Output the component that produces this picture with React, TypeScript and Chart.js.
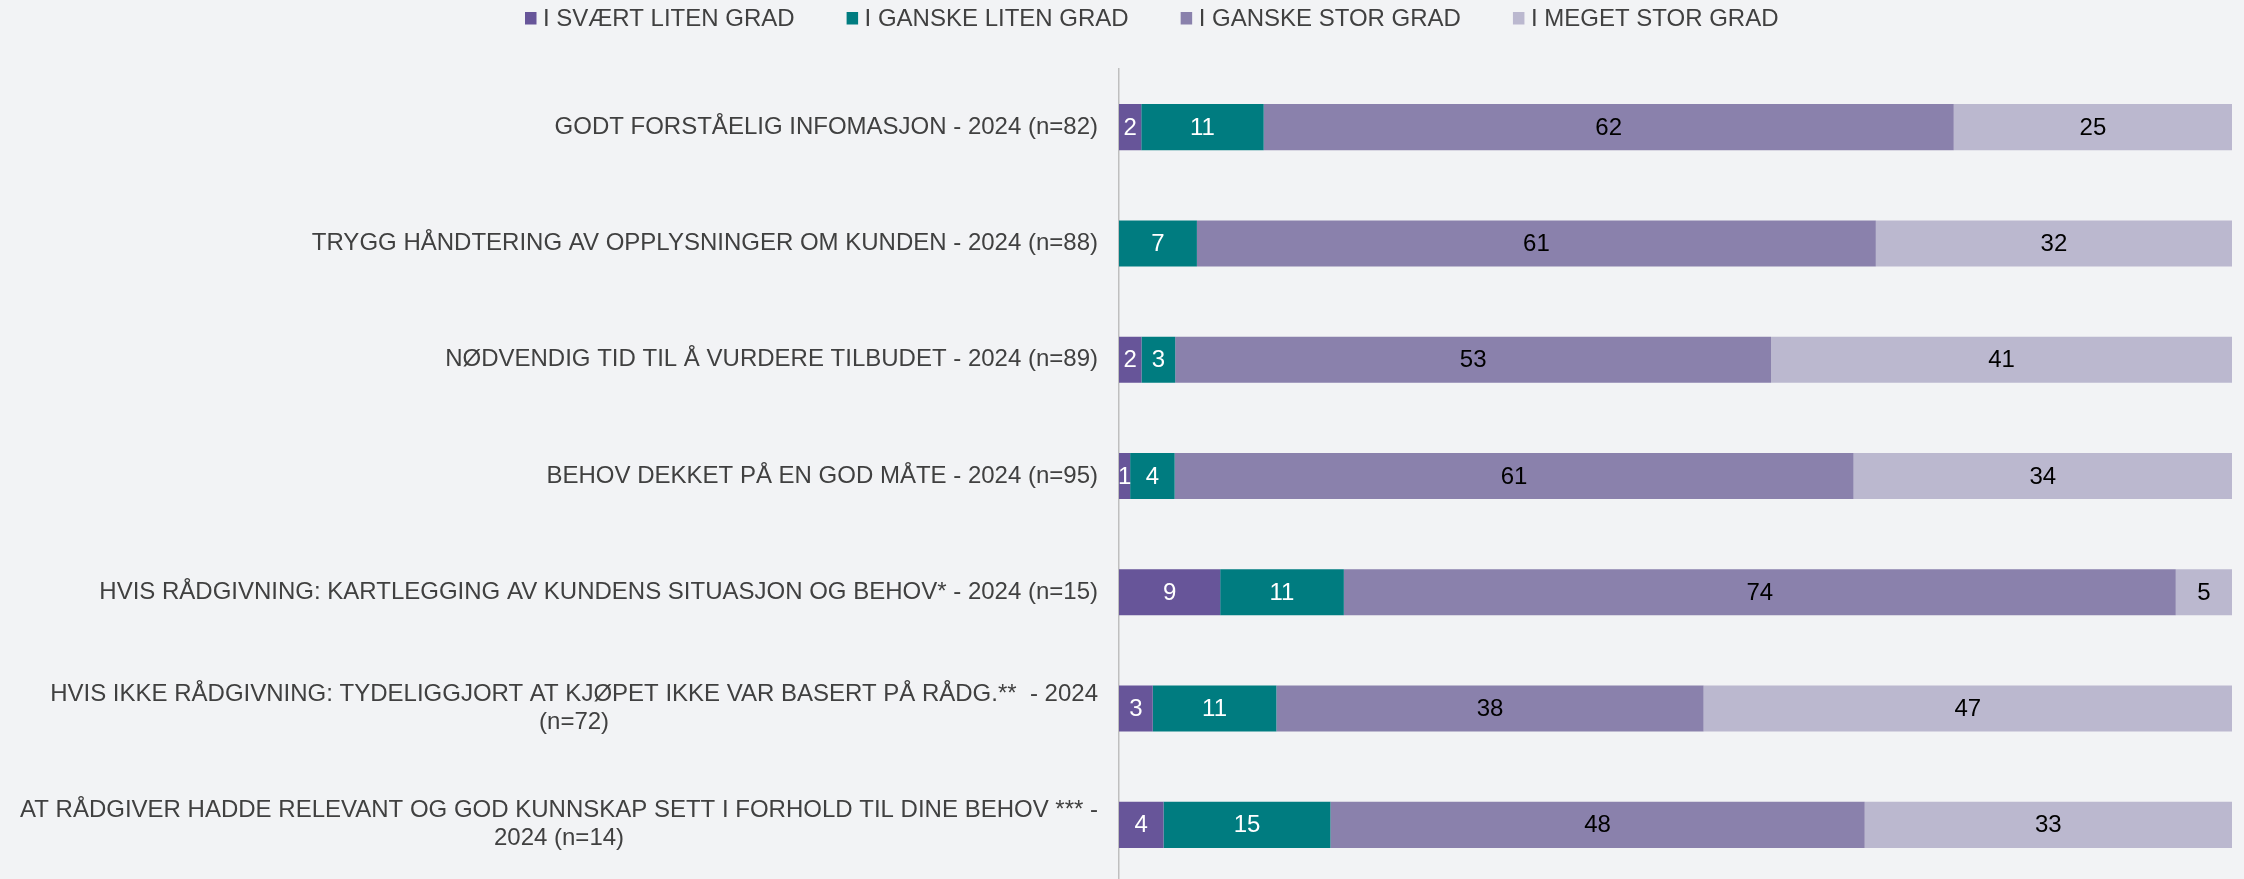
import React, { useEffect, useRef } from "react";
import { Chart, registerables } from "chart.js";

Chart.register(...registerables);

// ---- Data ----
const categories: string[][] = [
  ["GODT FORSTÅELIG INFOMASJON - 2024 (n=82)"],
  ["TRYGG HÅNDTERING AV OPPLYSNINGER OM KUNDEN - 2024 (n=88)"],
  ["NØDVENDIG TID TIL Å VURDERE TILBUDET - 2024 (n=89)"],
  ["BEHOV DEKKET PÅ EN GOD MÅTE - 2024 (n=95)"],
  ["HVIS RÅDGIVNING: KARTLEGGING AV KUNDENS SITUASJON OG BEHOV* - 2024 (n=15)"],
  ["HVIS IKKE RÅDGIVNING: TYDELIGGJORT AT KJØPET IKKE VAR BASERT PÅ RÅDG.**  - 2024", "(n=72)"],
  ["AT RÅDGIVER HADDE RELEVANT OG GOD KUNNSKAP SETT I FORHOLD TIL DINE BEHOV *** -", "2024 (n=14)"],
];

const seriesNames = [
  "I SVÆRT LITEN GRAD",
  "I GANSKE LITEN GRAD",
  "I GANSKE STOR GRAD",
  "I MEGET STOR GRAD",
];

const sværtLitenGrad = [2, 0, 2, 1, 9, 3, 4];
const ganskeLitenGrad = [11, 7, 3, 4, 11, 11, 15];
const ganskeStorGrad = [62, 61, 53, 61, 74, 38, 48];
const megetStorGrad = [25, 32, 41, 34, 5, 47, 33];

const seriesValues = [sværtLitenGrad, ganskeLitenGrad, ganskeStorGrad, megetStorGrad];
const seriesColors = ["#675599", "#007C80", "#8A81AC", "#BBB8CF"];
const valueLabelColors = ["#FFFFFF", "#FFFFFF", "#000000", "#000000"];

// ---- Style ----
const FONT_FAMILY = '"Liberation Sans", Arial, Helvetica, sans-serif';
const FONT_SIZE = 24;
const TEXT_COLOR = "#404040";
const BG = "#F2F3F5";
const W = 2244;
const H = 883;

const rowTotals = categories.map((_, i) =>
  seriesValues.reduce((s, arr) => s + arr[i], 0)
);

const backgroundPlugin = {
  id: "bgFill",
  beforeDraw(chart: any) {
    const ctx = chart.ctx;
    ctx.save();
    ctx.fillStyle = BG;
    ctx.fillRect(0, 0, chart.width, chart.height);
    ctx.restore();
  },
};

const yLabelPlugin = {
  id: "yLabels",
  afterDraw(chart: any) {
    const ctx = chart.ctx;
    const scale = chart.scales.y;
    const rightEdge = chart.chartArea.left - 21;
    const lineH = 28;
    ctx.save();
    ctx.font = `${FONT_SIZE}px ${FONT_FAMILY}`;
    ctx.fillStyle = TEXT_COLOR;
    ctx.textBaseline = "middle";
    ctx.textAlign = "center";
    categories.forEach((lines, i) => {
      const yc = scale.getPixelForTick(i);
      const widest = Math.max(...lines.map((l) => ctx.measureText(l).width));
      const cx = rightEdge - widest / 2;
      const y0 = yc - ((lines.length - 1) * lineH) / 2;
      lines.forEach((l, k) => ctx.fillText(l, cx, y0 + k * lineH));
    });
    ctx.restore();
  },
};

const valueLabelPlugin = {
  id: "valueLabels",
  afterDatasetsDraw(chart: any) {
    const ctx = chart.ctx;
    ctx.save();
    ctx.font = `${FONT_SIZE}px ${FONT_FAMILY}`;
    ctx.textAlign = "center";
    ctx.textBaseline = "middle";
    chart.data.datasets.forEach((ds: any, di: number) => {
      const meta = chart.getDatasetMeta(di);
      meta.data.forEach((el: any, i: number) => {
        const raw = seriesValues[di][i];
        if (!raw) return;
        const { x, base, y } = el.getProps(["x", "base", "y"], true);
        ctx.fillStyle = valueLabelColors[di];
        ctx.fillText(String(raw), (x + base) / 2, y + 1);
      });
    });
    ctx.restore();
  },
};

const legendPlugin = {
  id: "customLegend",
  afterDraw(chart: any) {
    const ctx = chart.ctx;
    ctx.save();
    ctx.font = `${FONT_SIZE}px ${FONT_FAMILY}`;
    ctx.textBaseline = "middle";
    ctx.textAlign = "left";
    let x = 525;
    const yMid = 18;
    seriesNames.forEach((name, i) => {
      ctx.fillStyle = seriesColors[i];
      ctx.fillRect(x, yMid - 6, 11.5, 12.5);
      ctx.fillStyle = TEXT_COLOR;
      ctx.fillText(name, x + 18, yMid + 1);
      x += 18 + ctx.measureText(name).width + 52;
    });
    ctx.restore();
  },
};

export default function App() {
  const canvasRef = useRef<HTMLCanvasElement | null>(null);

  useEffect(() => {
    const canvas = canvasRef.current;
    if (!canvas) return;
    const chart = new Chart(canvas, {
      type: "bar",
      data: {
        labels: categories.map((c) => c.join(" ")),
        datasets: seriesNames.map((name, di) => ({
          label: name,
          data: seriesValues[di].map((v, i) => (v / rowTotals[i]) * 100),
          backgroundColor: seriesColors[di],
          borderWidth: 0,
          categoryPercentage: 1,
          barPercentage: 0.396,
        })),
      },
      options: {
        indexAxis: "y",
        responsive: false,
        animation: false,
        devicePixelRatio: 1,
        layout: { padding: { top: 69, right: 12, bottom: 0, left: 0 } },
        plugins: {
          legend: { display: false },
          tooltip: { enabled: false },
          title: { display: false },
        },
        scales: {
          x: {
            stacked: true,
            min: 0,
            max: 100,
            display: false,
          },
          y: {
            stacked: true,
            grid: { display: false, drawTicks: false },
            border: { display: true, color: "#BFBFBF", width: 1.5 },
            ticks: { display: false },
            afterFit(scale: any) {
              scale.width = 1119;
            },
          },
        },
      },
      plugins: [backgroundPlugin, valueLabelPlugin, yLabelPlugin, legendPlugin],
    } as any);
    return () => chart.destroy();
  }, []);

  return (
    <div
      style={{
        position: "fixed",
        left: 0,
        top: 0,
        width: W,
        height: H,
        background: BG,
      }}
    >
      <canvas ref={canvasRef} width={W} height={H} style={{ display: "block" }} />
    </div>
  );
}
